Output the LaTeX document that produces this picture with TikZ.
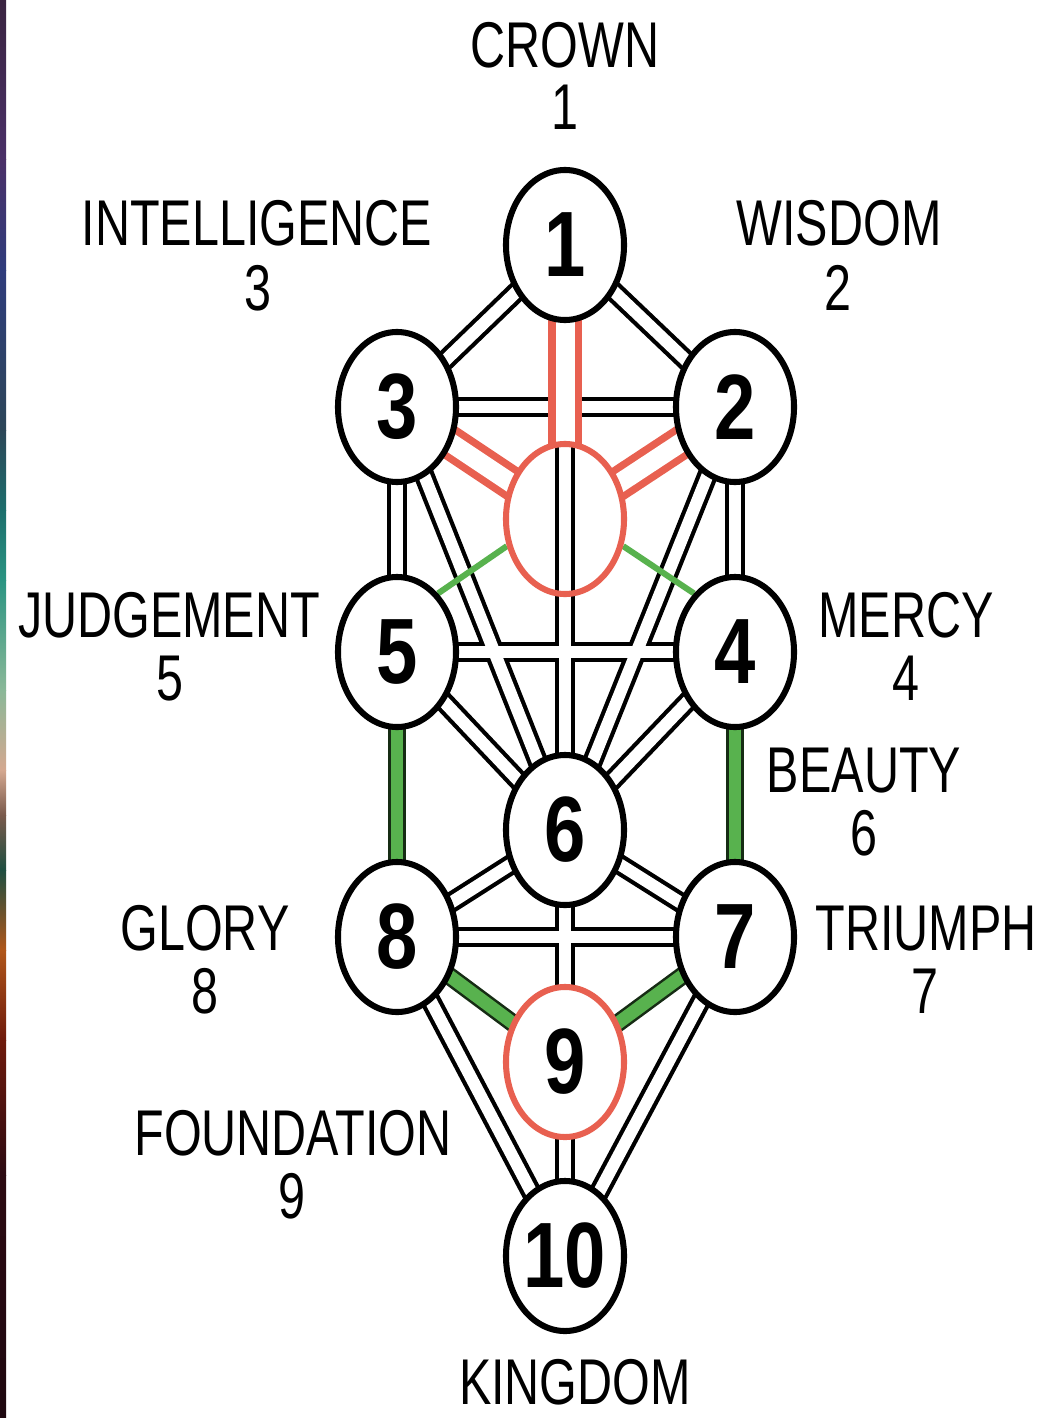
\documentclass[tikz,border=0pt]{standalone}
\usepackage{fontspec}
\usetikzlibrary{shapes.geometric}
\newfontfamily\labfont[FakeStretch=0.75]{Liberation Sans}
\newfontfamily\digfont[FakeStretch=0.8]{Liberation Sans}
\definecolor{sefred}{RGB}{232,96,80}
\definecolor{sefgreen}{RGB}{88,178,78}
\definecolor{sA}{HTML}{3A2440}
\definecolor{sB}{HTML}{4A3068}
\definecolor{sC}{HTML}{2F3C7C}
\definecolor{sD}{HTML}{2C4658}
\definecolor{sE}{HTML}{1C6E6C}
\definecolor{sF}{HTML}{2A9482}
\definecolor{sG}{HTML}{8AB898}
\definecolor{sH}{HTML}{D4A890}
\definecolor{sI}{HTML}{7A5A4C}
\definecolor{sJ}{HTML}{1E4E40}
\definecolor{sK}{HTML}{B0561A}
\definecolor{sL}{HTML}{6E1A0C}
\definecolor{sM}{HTML}{2C0A12}
\definecolor{sN}{HTML}{1E0810}
\pgfdeclarelayer{lZ}\pgfdeclarelayer{lA}\pgfdeclarelayer{lB}\pgfdeclarelayer{lC}\pgfdeclarelayer{lD}
\pgfsetlayers{lZ,lA,lB,lC,lD,main}
\begin{document}
\begin{tikzpicture}[x=0.025cm,y=-0.025cm,
  sef/.style={ellipse,draw=black,fill=white,line width=4.3pt,inner sep=0pt,
    minimum width=2.95cm,minimum height=3.75cm,
    font=\digfont\bfseries\fontsize{66}{66}\selectfont},
  daathst/.style={ellipse,draw=sefred,line width=4.3pt,inner sep=0pt,
    minimum width=2.95cm,minimum height=3.75cm},
  lab/.style={anchor=base,inner sep=0pt,font=\labfont\fontsize{46}{48}\selectfont},
  bout/.style={line width=14.6pt,draw=black},
  bin/.style={line width=8.6pt,draw=white},
  rout/.style={line width=24pt,draw=sefred},
  rin/.style={line width=13.5pt,draw=white},
  gout/.style={line width=12.8pt,draw=black!75!sefgreen},
  gin/.style={line width=9.2pt,draw=sefgreen},
  gline/.style={line width=4.3pt,draw=sefgreen}]
\useasboundingbox (0,0) rectangle (1042,1418);
\begin{pgfonlayer}{lZ}
\fill[white] (0,0) rectangle (1042,1418);
% colour strip at the left edge
\shade[top color=sA,bottom color=sB] (0,0) rectangle (6,160);
\shade[top color=sB,bottom color=sC] (0,160) rectangle (6,270);
\shade[top color=sC,bottom color=sD] (0,270) rectangle (6,430);
\shade[top color=sD,bottom color=sE] (0,430) rectangle (6,510);
\shade[top color=sE,bottom color=sF] (0,510) rectangle (6,580);
\shade[top color=sF,bottom color=sG] (0,580) rectangle (6,690);
\shade[top color=sG,bottom color=sH] (0,690) rectangle (6,770);
\shade[top color=sH,bottom color=sI] (0,770) rectangle (6,815);
\shade[top color=sI,bottom color=sJ] (0,815) rectangle (6,870);
\shade[top color=sJ,bottom color=sK] (0,870) rectangle (6,950);
\shade[top color=sK,bottom color=sL] (0,950) rectangle (6,1040);
\shade[top color=sL,bottom color=sM] (0,1040) rectangle (6,1175);
\shade[top color=sM,bottom color=sN] (0,1175) rectangle (6,1418);
\end{pgfonlayer}

% sephirot
\node[sef] (n1) at (565,245) {1};
\node[sef] (n3) at (397,407) {3};
\node[sef] (n2) at (735,407) {2};
\node[daathst] (daath) at (565,519) {};
\node[sef] (n5) at (397,652) {5};
\node[sef] (n4) at (735,652) {4};
\node[sef] (n6) at (565,830) {6};
\node[sef] (n8) at (397,937) {8};
\node[sef] (n7) at (735,937) {7};
\node[sef,draw=sefred] (n9) at (565,1062) {9};
\node[sef] (n10) at (565,1256) {10};

% black paths: outlines, then white interiors
\begin{pgfonlayer}{lA}
\foreach \a/\b in {n1/n2,n1/n3,n1/n6,n2/n3,n2/n4,n3/n5,n2/n6,n3/n6,n5/n4,n5/n6,n4/n6,n6/n8,n6/n7,n6/n9,n8/n7,n8/n10,n7/n10,n9/n10}
  \draw[bout] (\a.center) -- (\b.center);
\end{pgfonlayer}
\begin{pgfonlayer}{lB}
\foreach \a/\b in {n1/n2,n1/n3,n1/n6,n2/n3,n2/n4,n3/n5,n2/n6,n3/n6,n5/n4,n5/n6,n4/n6,n6/n8,n6/n7,n6/n9,n8/n7,n8/n10,n7/n10,n9/n10}
  \draw[bin] (\a.center) -- (\b.center);
\end{pgfonlayer}

% red and green paths
\begin{pgfonlayer}{lC}
\foreach \a in {n1,n3,n2}{
  \draw[rout] (\a.center) -- (daath.center);
  \draw[rin] (\a.center) -- (daath.center);
}
\foreach \a/\b in {n5/n8,n4/n7,n8/n9,n7/n9}{
  \draw[gout] (\a.center) -- (\b.center);
  \draw[gin] (\a.center) -- (\b.center);
}
\draw[gline] (daath.205) -- (n5.55);
\draw[gline] (daath.335) -- (n4.125);
\end{pgfonlayer}

% inside the hidden sphere
\begin{pgfonlayer}{lD}
\fill[white] (daath.center) ellipse [x radius=1.475cm, y radius=1.875cm];
\begin{scope}
\clip (daath.center) ellipse [x radius=1.475cm, y radius=1.875cm];
\draw[bout] (n1.center) -- (n6.center);
\draw[bin] (n1.center) -- (n6.center);
\end{scope}
\end{pgfonlayer}

% labels
\node[lab] (tcrown) at (565,68) {CROWN};
\node[lab] (tcrownn) at (565,130) {1};
\node[lab] (tint) at (257,245) {INTELLIGENCE};
\node[lab] (tintn) at (258,310) {3};
\node[lab] (twis) at (839,245) {WISDOM};
\node[lab] (twisn) at (838,310) {2};
\node[lab] (tjud) at (169,637) {JUDGEMENT};
\node[lab] (tjudn) at (170,700) {5};
\node[lab] (tmer) at (906,637) {MERCY};
\node[lab] (tmern) at (906,700) {4};
\node[lab] (tbea) at (864,792) {BEAUTY};
\node[lab] (tbean) at (864,855) {6};
\node[lab] (tglo) at (205,950) {GLORY};
\node[lab] (tglon) at (205,1013) {8};
\node[lab] (ttri) at (926,950) {TRIUMPH};
\node[lab] (ttrin) at (925,1013) {7};
\node[lab] (tfou) at (293,1155) {FOUNDATION};
\node[lab] (tfoun) at (292,1218) {9};
\node[lab] (tkin) at (575,1404) {KINGDOM};
\end{tikzpicture}
\end{document}
